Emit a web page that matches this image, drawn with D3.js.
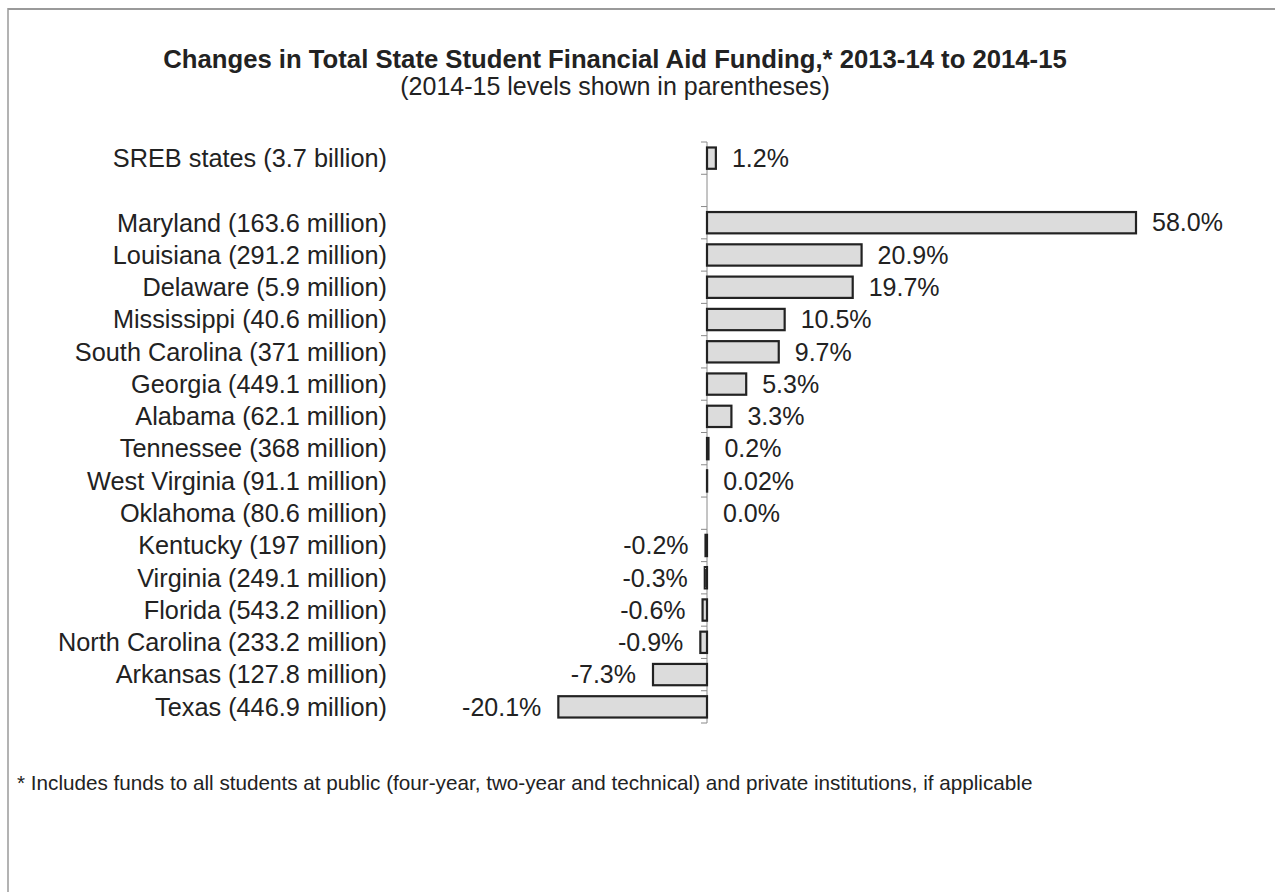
<!DOCTYPE html>
<html>
<head>
<meta charset="utf-8">
<script src="https://cdn.jsdelivr.net/npm/d3@7"></script>
<style>
  html, body { margin: 0; padding: 0; background: #fff; }
  svg { display: block; font-family: "Liberation Sans", Arial, sans-serif; }
</style>
</head>
<body>
<svg id="chart" width="1275" height="892"></svg>
<script>
const categories = [
  "SREB states (3.7 billion)",
  "",
  "Maryland (163.6 million)",
  "Louisiana (291.2 million)",
  "Delaware (5.9 million)",
  "Mississippi (40.6 million)",
  "South Carolina (371 million)",
  "Georgia (449.1 million)",
  "Alabama (62.1 million)",
  "Tennessee (368 million)",
  "West Virginia (91.1 million)",
  "Oklahoma (80.6 million)",
  "Kentucky (197 million)",
  "Virginia (249.1 million)",
  "Florida (543.2 million)",
  "North Carolina (233.2 million)",
  "Arkansas (127.8 million)",
  "Texas (446.9 million)"
];
const values = [1.2, null, 58.0, 20.9, 19.7, 10.5, 9.7, 5.3, 3.3, 0.2, 0.02, 0.0, -0.2, -0.3, -0.6, -0.9, -7.3, -20.1];
const valueLabels = ["1.2%", "", "58.0%", "20.9%", "19.7%", "10.5%", "9.7%", "5.3%", "3.3%", "0.2%", "0.02%", "0.0%", "-0.2%", "-0.3%", "-0.6%", "-0.9%", "-7.3%", "-20.1%"];
const title = "Changes in Total State Student Financial Aid Funding,* 2013-14 to 2014-15";
const subtitle = "(2014-15 levels shown in parentheses)";
const footnote = "* Includes funds to all students at public (four-year, two-year and technical) and private institutions, if applicable";

const svg = d3.select("#chart");

// frame
svg.append("line").attr("x1", 8).attr("x2", 1275).attr("y1", 9).attr("y2", 9)
  .attr("stroke", "#9a9a9a").attr("stroke-width", 2);
svg.append("line").attr("x1", 8).attr("x2", 8).attr("y1", 8).attr("y2", 892)
  .attr("stroke", "#9a9a9a").attr("stroke-width", 1.5);

// titles
svg.append("text").attr("x", 615).attr("y", 68).attr("text-anchor", "middle")
  .attr("font-weight", "bold").attr("font-size", 25.7).attr("fill", "#222").text(title);
svg.append("text").attr("x", 615).attr("y", 95).attr("text-anchor", "middle")
  .attr("font-size", 25).attr("fill", "#222").text(subtitle);

const x = d3.scaleLinear().domain([0, 58]).range([707, 1136]);
const y = d3.scaleBand().domain(d3.range(categories.length)).range([142, 723]).paddingInner(0.34).paddingOuter(0.17);
const step = y.step();
const bandTop = i => 142 + i * step;

// zero axis with ticks at band boundaries
const g = svg.append("g");
g.append("line").attr("x1", x(0)).attr("x2", x(0)).attr("y1", 142).attr("y2", 723)
  .attr("stroke", "#8a8a8a").attr("stroke-width", 1);
g.selectAll("line.tick").data(d3.range(categories.length + 1)).join("line")
  .attr("class", "tick")
  .attr("x1", x(0) - 6).attr("x2", x(0))
  .attr("y1", i => bandTop(i)).attr("y2", i => bandTop(i))
  .attr("stroke", "#8a8a8a").attr("stroke-width", 1);

const data = categories.map((c, i) => ({ c, v: values[i], lab: valueLabels[i], i }));

// bars
svg.selectAll("rect.bar").data(data.filter(d => d.v !== null && d.v !== 0)).join("rect")
  .attr("class", "bar")
  .attr("x", d => x(Math.min(0, d.v)))
  .attr("width", d => Math.abs(x(d.v) - x(0)))
  .attr("y", d => y(d.i))
  .attr("height", y.bandwidth())
  .attr("fill", "#dcdcdc")
  .attr("stroke", "#222")
  .attr("stroke-width", 2.2);

// category labels
svg.selectAll("text.cat").data(data.filter(d => d.c)).join("text")
  .attr("class", "cat")
  .attr("x", 387)
  .attr("y", d => y(d.i) + y.bandwidth() / 2)
  .attr("dy", "0.35em")
  .attr("text-anchor", "end")
  .attr("font-size", 25.3)
  .attr("fill", "#222")
  .text(d => d.c);

// value labels
svg.selectAll("text.val").data(data.filter(d => d.lab)).join("text")
  .attr("class", "val")
  .attr("x", d => d.v < 0 ? x(d.v) - 17 : x(Math.max(0, d.v)) + 16)
  .attr("y", d => y(d.i) + y.bandwidth() / 2)
  .attr("dy", "0.35em")
  .attr("text-anchor", d => d.v < 0 ? "end" : "start")
  .attr("font-size", 25)
  .attr("fill", "#222")
  .text(d => d.lab);

// footnote
svg.append("text").attr("x", 17).attr("y", 790)
  .attr("font-size", 20.7).attr("fill", "#222").text(footnote);
</script>
</body>
</html>
